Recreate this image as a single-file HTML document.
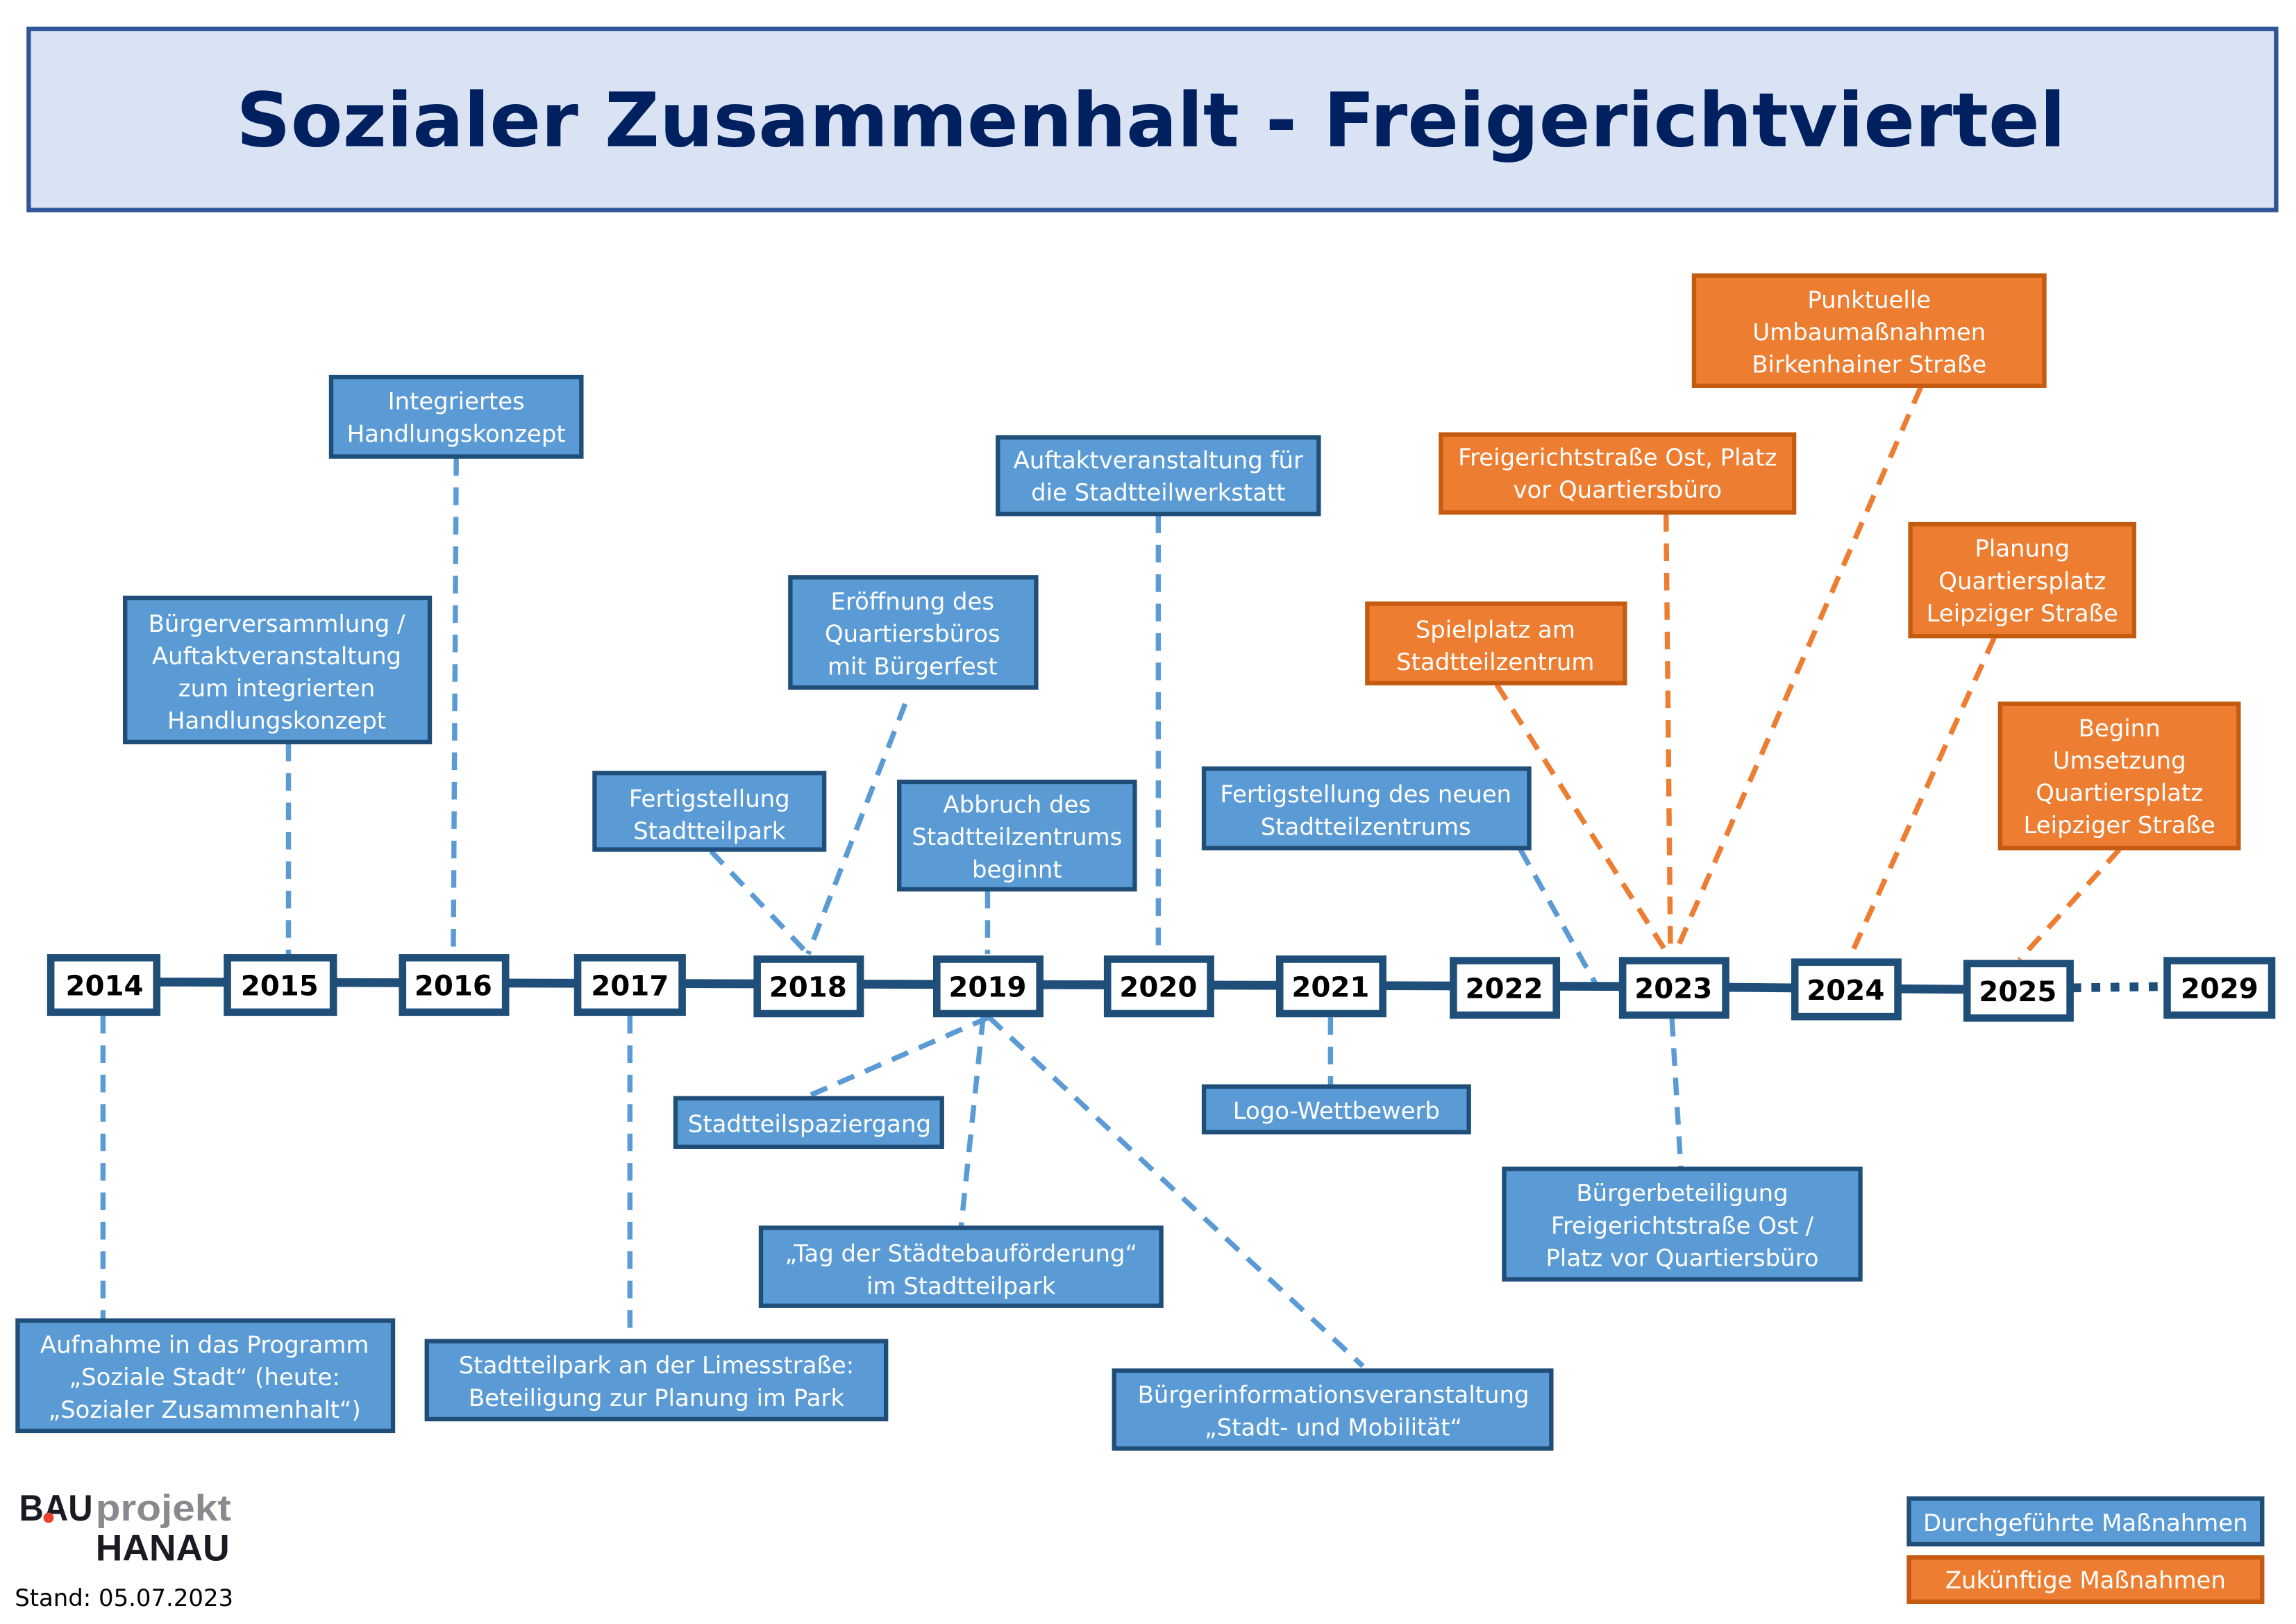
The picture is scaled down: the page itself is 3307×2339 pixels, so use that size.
<!DOCTYPE html>
<html><head><meta charset="utf-8"><style>html,body{margin:0;padding:0;background:#fff}svg{display:block}</style></head><body>
<svg xmlns="http://www.w3.org/2000/svg" width="3307" height="2339" viewBox="0 0 1560 1103" font-family="'DejaVu Sans','Liberation Sans',sans-serif">
<rect x="0" y="0" width="1560" height="1103" fill="#fff"/>
<rect x="19.5" y="19.5" width="1527" height="123" fill="#dae3f3" stroke="#2f5597" stroke-width="3"/>
<text x="782" y="99" text-anchor="middle" font-size="51" font-weight="bold" fill="#002060" textLength="1243" lengthAdjust="spacingAndGlyphs">Sozialer Zusammenhalt - Freigerichtviertel</text>

<g stroke="#5b9bd5" stroke-width="3.5" stroke-dasharray="12 8" fill="none">
<line x1="310" y1="311" x2="308" y2="648"/>
<line x1="196" y1="505" x2="196" y2="648"/>
<line x1="615" y1="478" x2="549" y2="648"/>
<line x1="483" y1="578" x2="549" y2="648"/>
<line x1="671" y1="605" x2="671" y2="648"/>
<line x1="787" y1="350" x2="787" y2="648"/>
<line x1="1033" y1="577" x2="1084" y2="668"/>
<line x1="70" y1="690" x2="70" y2="896"/>
<line x1="428" y1="690" x2="428" y2="910"/>
<line x1="672" y1="691" x2="548" y2="745"/>
<line x1="668" y1="691" x2="653" y2="833"/>
<line x1="672" y1="691" x2="926" y2="928"/>
<line x1="904" y1="691" x2="904" y2="737"/>
<line x1="1136" y1="692" x2="1142" y2="793"/>
</g>
<g stroke="#ed7d31" stroke-width="3.5" stroke-dasharray="12 8" fill="none">
<line x1="1017" y1="465" x2="1133" y2="648"/>
<line x1="1132" y1="349" x2="1135" y2="648"/>
<line x1="1305" y1="263" x2="1138" y2="648"/>
<line x1="1355" y1="433" x2="1257" y2="650"/>
<line x1="1440" y1="577" x2="1372" y2="652"/>
</g>

<polyline points="108,667 1100,670 1334,672" stroke="#1f4e79" stroke-width="6" fill="none"/>
<line x1="1408" y1="671" x2="1470" y2="670" stroke="#1f4e79" stroke-width="6" stroke-dasharray="6 7"/>

<g fill="#fff" stroke="#1f4e79" stroke-width="5">
<rect x="34.5" y="650.5" width="72" height="37"/>
<rect x="154.5" y="650.5" width="72" height="37"/>
<rect x="273.5" y="650.5" width="70" height="37"/>
<rect x="392.5" y="650.5" width="71" height="37"/>
<rect x="514.5" y="651.5" width="70" height="37"/>
<rect x="636.5" y="651.5" width="70" height="37"/>
<rect x="752.5" y="651.5" width="70" height="37"/>
<rect x="869.5" y="651.5" width="70" height="37"/>
<rect x="987.5" y="652.5" width="70" height="37"/>
<rect x="1102.5" y="652.5" width="70" height="37"/>
<rect x="1219.5" y="653.5" width="70" height="37"/>
<rect x="1336.5" y="654.5" width="70" height="37"/>
<rect x="1472.5" y="652.5" width="71" height="37"/>
</g>
<g font-size="19" font-weight="bold" fill="#000" text-anchor="middle">
<text x="71" y="676">2014</text><text x="190" y="676">2015</text><text x="308" y="676">2016</text>
<text x="428" y="676">2017</text><text x="549" y="677">2018</text><text x="671" y="677">2019</text>
<text x="787" y="677">2020</text><text x="904" y="677">2021</text><text x="1022" y="678">2022</text>
<text x="1137" y="678">2023</text><text x="1254" y="679">2024</text><text x="1371" y="680">2025</text>
<text x="1508" y="678">2029</text>
</g>

<g stroke="#1f4e79" stroke-width="3" fill="#5b9bd5">
<rect x="225" y="256" width="170" height="54"/>
<rect x="85" y="406" width="207" height="98"/>
<rect x="537" y="392" width="167" height="75"/>
<rect x="404" y="525" width="156" height="52"/>
<rect x="611" y="531" width="160" height="73"/>
<rect x="678" y="297" width="218" height="52"/>
<rect x="818" y="522" width="221" height="54"/>
<rect x="12" y="897" width="255" height="75"/>
<rect x="290" y="911" width="312" height="53"/>
<rect x="459" y="746" width="181" height="33"/>
<rect x="517" y="834" width="272" height="53"/>
<rect x="757" y="931" width="297" height="53"/>
<rect x="818" y="738" width="180" height="31"/>
<rect x="1022" y="794" width="242" height="75"/>
<rect x="1297" y="1018" width="240" height="31"/>
</g>
<g stroke="#c55a11" stroke-width="3" fill="#ed7d31">
<rect x="929" y="410" width="175" height="54"/>
<rect x="979" y="295" width="240" height="53"/>
<rect x="1151" y="187" width="238" height="75"/>
<rect x="1298" y="356" width="152" height="76"/>
<rect x="1359" y="478" width="162" height="98"/>
<rect x="1297" y="1058" width="240" height="30"/>
</g>
<g font-size="16" fill="#fff" text-anchor="middle">
<text x="310" y="278">Integriertes</text><text x="310" y="300">Handlungskonzept</text>
<text x="188" y="429">Bürgerversammlung /</text><text x="188" y="451">Auftaktveranstaltung</text><text x="188" y="473">zum integrierten</text><text x="188" y="495">Handlungskonzept</text>
<text x="620" y="414">Eröffnung des</text><text x="620" y="436">Quartiersbüros</text><text x="620" y="458">mit Bürgerfest</text>
<text x="482" y="548">Fertigstellung</text><text x="482" y="570">Stadtteilpark</text>
<text x="691" y="552">Abbruch des</text><text x="691" y="574">Stadtteilzentrums</text><text x="691" y="596">beginnt</text>
<text x="787" y="318">Auftaktveranstaltung für</text><text x="787" y="340">die Stadtteilwerkstatt</text>
<text x="928" y="545">Fertigstellung des neuen</text><text x="928" y="567">Stadtteilzentrums</text>
<text x="139" y="919">Aufnahme in das Programm</text><text x="139" y="941">„Soziale Stadt“ (heute:</text><text x="139" y="963">„Sozialer Zusammenhalt“)</text>
<text x="446" y="933">Stadtteilpark an der Limesstraße:</text><text x="446" y="955">Beteiligung zur Planung im Park</text>
<text x="550" y="769">Stadtteilspaziergang</text>
<text x="653" y="857">„Tag der Städtebauförderung“</text><text x="653" y="879">im Stadtteilpark</text>
<text x="906" y="953">Bürgerinformationsveranstaltung</text><text x="906" y="975">„Stadt- und Mobilität“</text>
<text x="908" y="760">Logo-Wettbewerb</text>
<text x="1143" y="816">Bürgerbeteiligung</text><text x="1143" y="838">Freigerichtstraße Ost /</text><text x="1143" y="860">Platz vor Quartiersbüro</text>
<text x="1417" y="1040">Durchgeführte Maßnahmen</text>
<text x="1016" y="433">Spielplatz am</text><text x="1016" y="455">Stadtteilzentrum</text>
<text x="1099" y="316">Freigerichtstraße Ost, Platz</text><text x="1099" y="338">vor Quartiersbüro</text>
<text x="1270" y="209">Punktuelle</text><text x="1270" y="231">Umbaumaßnahmen</text><text x="1270" y="253">Birkenhainer Straße</text>
<text x="1374" y="378">Planung</text><text x="1374" y="400">Quartiersplatz</text><text x="1374" y="422">Leipziger Straße</text>
<text x="1440" y="500">Beginn</text><text x="1440" y="522">Umsetzung</text><text x="1440" y="544">Quartiersplatz</text><text x="1440" y="566">Leipziger Straße</text>
<text x="1417" y="1079">Zukünftige Maßnahmen</text>
</g>

<g font-weight="bold" font-family="'Liberation Sans',sans-serif">
<text x="13" y="1033" font-size="25" fill="#1a1a22" textLength="50" lengthAdjust="spacingAndGlyphs">BAU</text>
<text x="65" y="1033" font-size="25" fill="#8a8a8e" textLength="92" lengthAdjust="spacingAndGlyphs">projekt</text>
<text x="65" y="1060" font-size="25" fill="#1a1a22" textLength="91" lengthAdjust="spacingAndGlyphs">HANAU</text>
</g>
<circle cx="33" cy="1031" r="3.5" fill="#e8412c"/>
<text x="10" y="1091" font-size="16" fill="#000">Stand: 05.07.2023</text>
</svg>
</body></html>
